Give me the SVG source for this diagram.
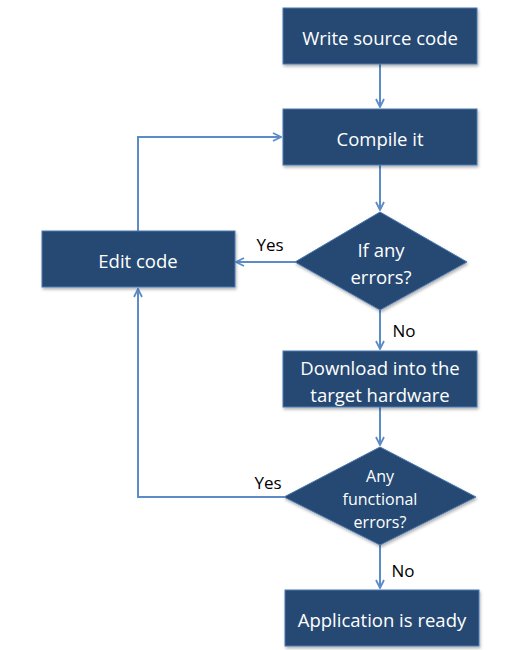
<svg xmlns="http://www.w3.org/2000/svg" width="509" height="650" viewBox="0 0 509 650">
<defs>
<marker id="arr" viewBox="0 0 10 10" refX="9" refY="5" markerWidth="10" markerHeight="10" markerUnits="userSpaceOnUse" orient="auto">
<path d="M1,1 L9,5 L1,9" fill="none" stroke="#5b8cc8" stroke-width="1.8"/>
</marker>
<filter id="sh" x="-10%" y="-10%" width="130%" height="140%">
<feDropShadow dx="1" dy="2" stdDeviation="1.5" flood-color="#000" flood-opacity="0.3"/>
</filter>
</defs>
<style>
.n{fill:#264a73;stroke:#4a78b0;stroke-width:1;filter:url(#sh)}
.t{font-family:"Open Sans","Liberation Sans",sans-serif;font-size:18.5px;fill:#ffffff;text-anchor:middle}
.ts{font-family:"Open Sans","Liberation Sans",sans-serif;font-size:16px;fill:#ffffff;text-anchor:middle}
.l{font-family:"Open Sans","Liberation Sans",sans-serif;font-size:17px;fill:#000;text-anchor:middle}
.c{fill:none;stroke:#5b8cc8;stroke-width:2}
</style>
<rect width="509" height="650" fill="#ffffff"/>
<g id="connectors">
<path class="c" d="M380,64 L380,107" marker-end="url(#arr)"/>
<path class="c" d="M380,165 L380,210" marker-end="url(#arr)"/>
<path class="c" d="M295,262 L236,262" marker-end="url(#arr)"/>
<path class="c" d="M138,231 L138,137 L281,137" marker-end="url(#arr)"/>
<path class="c" d="M380,310 L380,349" marker-end="url(#arr)"/>
<path class="c" d="M380,407 L380,445" marker-end="url(#arr)"/>
<path class="c" d="M284,497 L138,497 L138,289" marker-end="url(#arr)"/>
<path class="c" d="M380,545 L380,588" marker-end="url(#arr)"/>
<text class="l" x="270" y="251">Yes</text>
<text class="l" x="404" y="337">No</text>
<text class="l" x="268" y="489">Yes</text>
<text class="l" x="403" y="577">No</text>
</g>
<g id="write">
<rect class="n" x="283" y="8" width="194" height="56"/>
<text class="t" x="380" y="45">Write source code</text>
</g>
<g id="compile">
<rect class="n" x="283" y="109" width="194" height="56"/>
<text class="t" x="380" y="146">Compile it</text>
</g>
<g id="ifany">
<polygon class="n" points="380,212 467,262 380,310 295,262"/>
<text class="t" x="381" y="257">If any</text>
<text class="t" x="381" y="284">errors?</text>
</g>
<g id="edit">
<rect class="n" x="42" y="231" width="193" height="56"/>
<text class="t" x="138" y="268">Edit code</text>
</g>
<g id="download">
<rect class="n" x="283" y="351" width="194" height="56"/>
<text class="t" x="380" y="375">Download into the</text>
<text class="t" x="380" y="402">target hardware</text>
</g>
<g id="functional">
<polygon class="n" points="380,447 476,497 380,545 284,497"/>
<text class="ts" x="380" y="482">Any</text>
<text class="ts" x="380" y="505">functional</text>
<text class="ts" x="380" y="528">errors?</text>
</g>
<g id="ready">
<rect class="n" x="285" y="590" width="194" height="56"/>
<text class="t" x="382" y="627">Application is ready</text>
</g>
</svg>
